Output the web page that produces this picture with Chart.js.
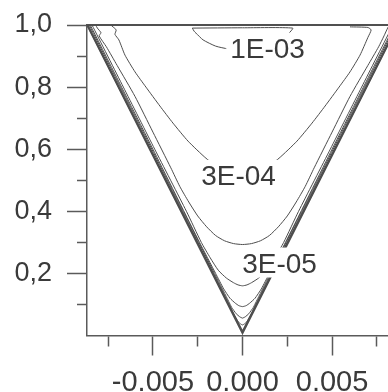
<!DOCTYPE html>
<html>
<head>
<meta charset="utf-8">
<script src="https://cdn.jsdelivr.net/npm/chart.js@4/dist/chart.umd.min.js"></script>
<style>
  html, body { margin: 0; padding: 0; background: #fff; width: 388px; height: 392px; overflow: hidden; }
  #wrap { width: 400px; height: 392px; }
</style>
</head>
<body>
<div id="wrap"><canvas id="chart" width="400" height="392"></canvas></div>
<script>
// ── Data ──────────────────────────────────────────────────────────────────────

const xTicks = [-0.0075, -0.005, -0.0025, 0, 0.0025, 0.005, 0.0075];
const xMajor = [-0.005, 0, 0.005];
const yTicks = [0.1, 0.2, 0.3, 0.4, 0.5, 0.6, 0.7, 0.8, 0.9, 1.0];
const yMajor = [0.2, 0.4, 0.6, 0.8, 1.0];

// contour lines, [x, y] pairs
const edgeA = [[-0.00868, 1.0], [0, 0.006], [0.00868, 1.0]];
const edgeB = [[-0.00866, 1.0], [0, 0.013], [0.00866, 1.0]];
const c1e6 = [[-0.00862, 1.0], [-0.00512, 0.6], [-0.00162, 0.2], [-0.00085, 0.11], [-0.0005, 0.07], [-0.00025, 0.045],
  [-0.0001, 0.037], [0, 0.034], [0.0001, 0.037], [0.00025, 0.045], [0.0005, 0.07], [0.00085, 0.11], [0.00162, 0.2],
  [0.00512, 0.6], [0.00862, 1.0]];
const c3e6 = [[-0.00856, 1.0], [-0.00506, 0.6], [-0.00156, 0.2], [-0.00086, 0.12], [-0.0006, 0.09], [-0.00035, 0.07],
  [-0.00015, 0.06], [0, 0.056], [0.00015, 0.06], [0.00035, 0.07], [0.0006, 0.09], [0.00086, 0.12], [0.00156, 0.2],
  [0.00506, 0.6], [0.00856, 1.0]];
const c1e5 = [[-0.0085, 1.0], [-0.005, 0.6], [-0.0024, 0.3], [-0.0015, 0.2], [-0.00105, 0.15], [-0.0007, 0.12],
  [-0.0004, 0.104], [-0.0002, 0.096], [0, 0.093], [0.0002, 0.096], [0.0004, 0.104], [0.0007, 0.12], [0.00105, 0.15],
  [0.0015, 0.2], [0.0024, 0.3], [0.005, 0.6], [0.0085, 1.0]];
const c3e5 = [[-0.0084, 1.0], [-0.00665, 0.8], [-0.0049, 0.6], [-0.00313, 0.4], [-0.0023, 0.3], [-0.0018, 0.25],
  [-0.00135, 0.21], [-0.0009, 0.185], [-0.0005, 0.17], [-0.00025, 0.163], [0, 0.16], [0.00025, 0.163], [0.0005, 0.17],
  [0.0009, 0.185], [0.00135, 0.21], [0.0018, 0.25], [0.0023, 0.3], [0.00313, 0.4], [0.0049, 0.6], [0.00665, 0.8],
  [0.0084, 1.0]];
const c1e4 = [[-0.0082, 1.0], [-0.0081, 0.99], [-0.0079, 0.975], [-0.008, 0.965], [-0.0076, 0.93], [-0.007, 0.87],
  [-0.006, 0.77], [-0.005, 0.655], [-0.004, 0.54], [-0.0035, 0.48], [-0.003, 0.43], [-0.0025, 0.385], [-0.002, 0.35],
  [-0.0015, 0.322], [-0.001, 0.305], [-0.0005, 0.296], [0, 0.293], [0.0005, 0.296], [0.001, 0.305], [0.0015, 0.322],
  [0.002, 0.35], [0.0025, 0.385], [0.003, 0.43], [0.0035, 0.48], [0.004, 0.54], [0.005, 0.655], [0.006, 0.77],
  [0.007, 0.87], [0.0076, 0.93], [0.0079, 0.965], [0.0081, 0.99], [0.0082, 1.0]];
const c3e4 = [[-0.00735, 1.0], [-0.00723, 0.994], [-0.00705, 0.984], [-0.00712, 0.97], [-0.0069, 0.952],
  [-0.00656, 0.903], [-0.006, 0.849], [-0.00539, 0.8], [-0.00461, 0.739], [-0.00388, 0.684], [-0.00304, 0.626],
  [-0.00204, 0.571], [-0.00115, 0.533], [0, 0.512], [0.00115, 0.533], [0.00204, 0.571], [0.00304, 0.626],
  [0.00388, 0.684], [0.00461, 0.739], [0.00539, 0.8], [0.006, 0.849], [0.00656, 0.903], [0.007, 0.96],
  [0.00718, 0.984], [0.007, 0.992], [0.006, 0.994]];
const c1e3 = [[-0.0028, 0.99], [-0.0027, 0.98], [-0.0026, 0.974], [-0.0022, 0.952], [-0.0015, 0.932], [-0.0008, 0.923],
  [0, 0.919], [0.0008, 0.923], [0.0015, 0.932], [0.0022, 0.952], [0.0026, 0.974], [0.0028, 0.99], [0, 0.991],
  [-0.0028, 0.99]];

const contours = [edgeA, edgeB, c1e6, c3e6, c1e5, c3e5, c1e4, c3e4, c1e3];
const contourWidths = [1.5, 1.5, 1, 1, 1, 1, 1, 1, 1];
const contourTension = [0, 0, 0.1, 0.1, 0.15, 0.2, 0.2, 0.2, 0.2];

const labelTexts = ['1E-03', '3E-04', '3E-05'];
const labelX = [0.0014, -0.00022, 0.00207];
const labelY = [0.927, 0.517, 0.235];

// ── Chart ─────────────────────────────────────────────────────────────────────

const FONT = '"Liberation Sans", Arial, sans-serif';
const AXIS = '#5a5a5a';
const TEXT = '#3a3a3a';

const contourLabels = {
  id: 'contourLabels',
  afterDatasetsDraw(chart) {
    const { ctx, scales: { x, y } } = chart;
    ctx.save();
    ctx.font = `28px ${FONT}`;
    ctx.textAlign = 'center';
    ctx.textBaseline = 'alphabetic';
    labelTexts.forEach((t, i) => {
      const px = x.getPixelForValue(labelX[i]);
      const py = y.getPixelForValue(labelY[i]);
      const w = ctx.measureText(t).width;
      const cap = 20;
      ctx.fillStyle = '#fff';
      ctx.fillRect(px - w / 2 - 4, py - cap / 2 - 5, w + 8, cap + 10);
      ctx.fillStyle = TEXT;
      ctx.fillText(t, px, py + cap / 2);
    });
    ctx.restore();
  },
};

new Chart(document.getElementById('chart'), {
  type: 'scatter',
  data: {
    datasets: contours.map((c, i) => ({
      data: c.map(([x, y]) => ({ x, y })),
      showLine: true,
      borderColor: '#4d4d4d',
      borderWidth: contourWidths[i],
      pointRadius: 0,
      tension: contourTension[i],
      fill: false,
    })),
  },
  options: {
    responsive: false,
    animation: false,
    layout: { padding: { top: 25, right: 2, left: 0, bottom: 0 } },
    plugins: { legend: { display: false }, tooltip: { enabled: false } },
    scales: {
      x: {
        type: 'linear',
        min: -0.00868,
        max: 0.00868,
        afterBuildTicks: (s) => { s.ticks = xTicks.map((v) => ({ value: v })); },
        afterFit: (s) => { s.height = 56.5; s.paddingLeft = 0; s.paddingRight = 0; },
        border: { color: AXIS, width: 1.5 },
        grid: {
          drawOnChartArea: false,
          tickLength: 20,
          tickColor: AXIS,
          tickWidth: 1.5,
          tickBorderDash: (ctx) => (xMajor.includes(ctx.tick.value) ? [] : [10, 20]),
        },
        ticks: {
          autoSkip: false,
          maxRotation: 0,
          padding: 10,
          color: TEXT,
          font: { family: FONT, size: 29 },
          callback: (v) => (xMajor.includes(v) ? v.toFixed(3) : ''),
        },
      },
      y: {
        type: 'linear',
        min: 0,
        max: 1,
        afterBuildTicks: (s) => { s.ticks = yTicks.map((v) => ({ value: v })); },
        afterFit: (s) => { s.width = 87; s.paddingTop = 0; s.paddingBottom = 0; },
        border: { color: AXIS, width: 1.5 },
        grid: {
          drawOnChartArea: false,
          tickLength: 20,
          tickColor: AXIS,
          tickWidth: 1.5,
          tickBorderDash: (ctx) => (yMajor.includes(ctx.tick.value) ? [] : [10, 10]),
          tickBorderDashOffset: (ctx) => (yMajor.includes(ctx.tick.value) ? 0 : 10),
        },
        ticks: {
          autoSkip: false,
          padding: 15,
          color: TEXT,
          font: { family: FONT, size: 27 },
          callback: (v) => (yMajor.includes(v) ? v.toFixed(1).replace('.', ',') : ''),
        },
      },
      top: {
        type: 'linear',
        position: 'top',
        afterFit: (s) => { s.height = 0; },
        border: { color: '#505050', width: 2 },
        grid: { display: false },
        ticks: { display: false },
      },
    },
  },
  plugins: [contourLabels],
});
</script>
</body>
</html>
